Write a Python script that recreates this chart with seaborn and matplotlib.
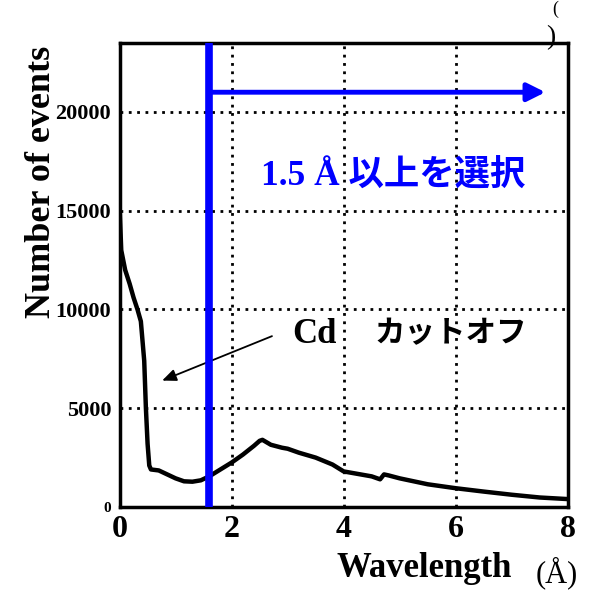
import matplotlib
matplotlib.use("Agg")
import matplotlib.pyplot as plt
import seaborn as sns
import pandas as pd
from matplotlib.ticker import MultipleLocator

wavelength = [0, 0.03, 0.1, 0.18, 0.25, 0.32, 0.38, 0.44, 0.47, 0.5, 0.53, 0.56,
              0.7, 0.85, 1.0, 1.15, 1.3, 1.45, 1.6, 1.8, 2.0, 2.2, 2.4, 2.5, 2.55,
              2.7, 2.9, 3.0, 3.2, 3.5, 3.8, 4.0, 4.2, 4.5, 4.65, 4.72, 4.8, 5.0,
              5.5, 6.0, 6.5, 7.0, 7.5, 8.0]
events = [15200, 13000, 12000, 11300, 10600, 10000, 9400, 7400, 5000, 3200, 2100, 1900,
          1850, 1650, 1450, 1300, 1280, 1350, 1550, 1900, 2250, 2650, 3100, 3350, 3400,
          3150, 3000, 2950, 2750, 2500, 2150, 1800, 1700, 1550, 1400, 1650, 1600, 1450,
          1150, 950, 780, 620, 480, 400]
x_ticks = [0, 2, 4, 6, 8]
y_ticks = [0, 5000, 10000, 15000, 20000]
cut_value = 1.6
select_text = "1.5 Å 以上を選択"
cd_label = "Cd"
cutoff_label = "カットオフ"

sns.set_theme(style="white")
plt.rcParams['font.family'] = ['Liberation Serif', 'Noto Sans CJK JP']
plt.rcParams['text.color'] = 'black'
plt.rcParams['axes.labelcolor'] = 'black'
plt.rcParams['xtick.color'] = 'black'
plt.rcParams['ytick.color'] = 'black'

df = pd.DataFrame({"wavelength": wavelength, "events": events})

fig = plt.figure(figsize=(5.89, 5.90), dpi=100)
ax = fig.add_axes([0.203, 0.1407, 0.761, 0.786])

sns.lineplot(data=df, x="wavelength", y="events", ax=ax, color="black",
             linewidth=3.2, zorder=3)

ax.set_xlim(0, 8)
ax.set_ylim(0, 23480)
ax.set_xticks(x_ticks)
ax.set_yticks(y_ticks)
ax.xaxis.set_minor_locator(MultipleLocator(0.5))
ax.yaxis.set_minor_locator(MultipleLocator(1000))
ax.set_xticklabels([str(v) for v in x_ticks], fontsize=23, fontweight='bold')
ylabels = ax.set_yticklabels([str(v) for v in y_ticks], fontsize=16, fontweight='bold')
ylabels[0].set_fontsize(11)

ax.tick_params(axis='both', which='major', direction='in', length=8, width=1.5,
               colors='black')
ax.tick_params(axis='both', which='minor', direction='in', length=5, width=1.5,
               colors='black')
ax.tick_params(axis='x', pad=6)
ax.tick_params(axis='y', pad=6)

for v in x_ticks[1:-1]:
    ax.axvline(v, color='black', linestyle=(0, (1, 2)), linewidth=2, zorder=1)
for v in y_ticks[1:]:
    ax.axhline(v, color='black', linestyle=(0, (1, 2)), linewidth=2, zorder=1)

for s in ax.spines.values():
    s.set_visible(True)
    s.set_color('black')
    s.set_linewidth(2.5)

ax.set_xlabel("")
ax.set_ylabel("Number of events", fontsize=26, fontweight='bold')
ax.yaxis.set_label_coords(-0.138, 0.70)

fig.text(0.72, 0.022, "Wavelength", fontsize=25, fontweight='bold', ha='center',
         va='baseline')
fig.text(0.946, 0.014, "(Å)", fontsize=22, ha='center', va='baseline')
fig.text(0.935, 0.925, ")", fontsize=20, ha='center', va='baseline')
fig.text(0.942, 0.998, "(", fontsize=13, ha='center', va='top')

# selection marker
ax.axvline(cut_value, color='#0000ff', linewidth=5.5, zorder=4)
ax.annotate("", xy=(7.6, 21000), xytext=(cut_value, 21000),
            arrowprops=dict(arrowstyle='-|>,head_length=0.9,head_width=0.45',
                            color='#0000ff', lw=3.5, shrinkA=0, shrinkB=0), zorder=4)
ax.text(2.52, 16700, select_text, color='#0000ff', fontsize=25.5, fontweight='bold',
        ha='left', va='center')

ax.text(3.08, 8750, cd_label, color='black', fontsize=25, fontweight='bold',
        ha='left', va='center')
ax.text(4.55, 8750, cutoff_label, color='black', fontsize=22, fontweight='bold',
        ha='left', va='center')
ax.annotate("", xy=(0.76, 6400), xytext=(2.72, 8650),
            arrowprops=dict(arrowstyle='-|>,head_length=0.7,head_width=0.3',
                            color='black', lw=1.3, shrinkA=0, shrinkB=0))

fig.savefig("out.png", dpi=100)
